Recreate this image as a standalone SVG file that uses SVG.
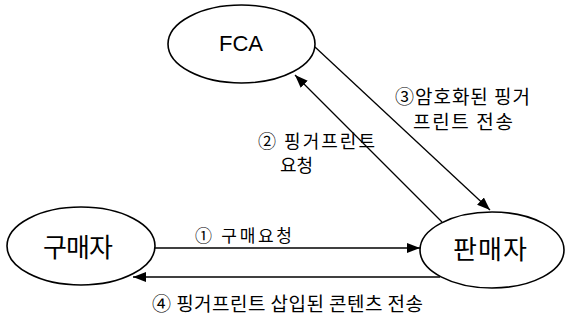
<svg xmlns="http://www.w3.org/2000/svg" width="566" height="322" viewBox="0 0 566 322">
<style>
.node{fill:#fff;stroke:#000;stroke-width:1.6}
.lbl{font-family:"Noto Sans CJK KR","Liberation Sans",sans-serif;fill:#000}
.big{font-size:26px;text-anchor:middle;dominant-baseline:central}
.sm{font-size:19px}
.edge{stroke:#000;stroke-width:1.3;fill:none;marker-end:url(#ah)}
</style>
<defs>
<marker id="ah" viewBox="0 0 13 10" refX="13" refY="5" markerWidth="13" markerHeight="10" markerUnits="userSpaceOnUse" orient="auto">
<path d="M0,0 L13,5 L0,10 Z" fill="#000"/>
</marker>
</defs>
<g id="connectors">
<line class="edge" x1="442" y1="222" x2="295" y2="75"/>
<line class="edge" x1="315" y1="47" x2="490" y2="210"/>
<line class="edge" x1="155" y1="248" x2="420" y2="248"/>
<line class="edge" x1="440" y1="277" x2="133" y2="277"/>
</g>
<g id="FCA">
<ellipse class="node" cx="241.5" cy="44" rx="73.5" ry="39"/>
<text class="lbl big" x="241" y="43" style="font-family:'Liberation Sans',sans-serif;font-size:22px">FCA</text>
</g>
<g id="buyer">
<ellipse class="node" cx="81" cy="246" rx="74" ry="39"/>
<text class="lbl big" x="78" y="245" textLength="70">구매자</text>
</g>
<g id="seller">
<ellipse class="node" cx="492" cy="250" rx="72" ry="38"/>
<text class="lbl big" x="490" y="247" textLength="74">판매자</text>
</g>
<g id="labels">
<text class="lbl sm" x="258" y="148" textLength="117" style="font-size:18px">② 핑거프린트</text>
<text class="lbl sm" x="280" y="172" textLength="33" style="font-size:18px">요청</text>
<text class="lbl sm" x="395" y="104" textLength="135">③암호화된 핑거</text>
<text class="lbl sm" x="413" y="129" textLength="100">프린트 전송</text>
<text class="lbl sm" x="195" y="242" textLength="97" style="font-size:17px">① 구매요청</text>
<text class="lbl sm" x="152" y="311" textLength="271">④ 핑거프린트 삽입된 콘텐츠 전송</text>
</g>
</svg>
